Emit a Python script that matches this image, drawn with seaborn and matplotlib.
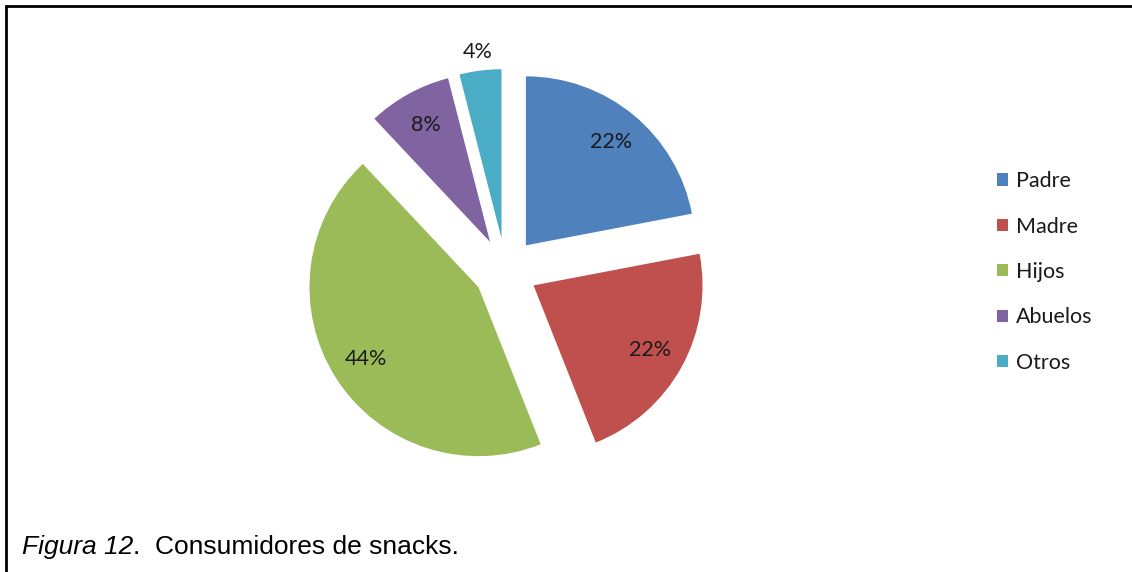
import matplotlib
matplotlib.use("Agg")
import matplotlib.pyplot as plt
from matplotlib.lines import Line2D
import seaborn as sns
import numpy as np

# Snack consumers by family member (percent)
categories = ["Padre", "Madre", "Hijos", "Abuelos", "Otros"]
shares = [22, 22, 44, 8, 4]
colors = ["#4F81BD", "#C0504D", "#9BBB59", "#8064A2", "#4BACC6"]
caption_italic = "Figura 12"
caption_rest = ".  Consumidores de snacks."

sns.set_theme(style="white")
plt.rcParams["font.family"] = ["Lato", "DejaVu Sans"]

W, H = 1132, 572
fig = plt.figure(figsize=(W / 100, H / 100), dpi=100)
ax = fig.add_axes([0, 0, 1, 1])

radius = 169
center = (505.5, H - 270)
explode = [32] * len(shares)

wedges, _, pcts = ax.pie(
    shares, colors=colors, startangle=90, counterclock=False,
    radius=radius, center=center, explode=explode,
    autopct=lambda p: f"{p:.0f}%", pctdistance=0.79,
    wedgeprops=dict(linewidth=0),
    textprops=dict(fontsize=15.5, color="#1a1a1a"),
)

# Smallest slice gets its label outside the wedge
w = wedges[-1]
mid = np.deg2rad((w.theta1 + w.theta2) / 2)
cx, cy = w.center
pcts[-1].set_position((cx + 1.11 * radius * np.cos(mid), cy + 1.11 * radius * np.sin(mid)))

ax.set_xlim(0, W)
ax.set_ylim(0, H)
ax.set_aspect("equal")
ax.axis("off")

leg = ax.legend(
    wedges, categories, loc="center left",
    bbox_to_anchor=(997 / W, 1 - 272 / H), bbox_transform=fig.transFigure,
    frameon=False, fontsize=15.5, handlelength=0.5, handleheight=0.5,
    handletextpad=0.4, labelspacing=1.18, borderpad=0, borderaxespad=0,
)
for t in leg.get_texts():
    t.set_color("#1a1a1a")

# Frame lines along the top and left edges
lw = 2.0
fig.add_artist(Line2D([5 / W, 1], [1 - 6.3 / H, 1 - 6.3 / H], transform=fig.transFigure,
                      color="black", linewidth=lw, solid_capstyle="butt"))
fig.add_artist(Line2D([6.3 / W, 6.3 / W], [0, 1 - 5 / H], transform=fig.transFigure,
                      color="black", linewidth=lw, solid_capstyle="butt"))

# Caption: italic figure number followed by the title
cap_y = 1 - 547 / H
cap_size = 19
t1 = fig.text(22 / W, cap_y, caption_italic, fontsize=cap_size, style="italic",
              family=["Liberation Sans"], va="center", ha="left", color="black")
fig.canvas.draw()
bb = t1.get_window_extent()
fig.text(bb.x1 / W, cap_y, caption_rest, fontsize=cap_size,
         family=["Liberation Sans"], va="center", ha="left", color="black")

fig.savefig("out.png", dpi=100, facecolor="white")
